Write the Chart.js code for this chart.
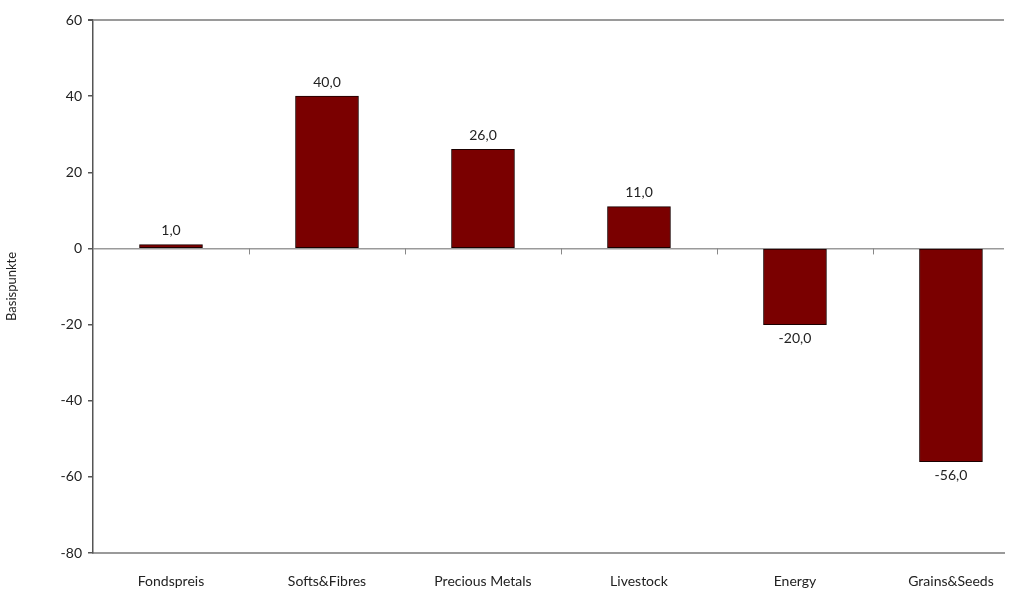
<!DOCTYPE html>
<html>
<head>
<meta charset="utf-8">
<script src="https://cdn.jsdelivr.net/npm/chart.js@4/dist/chart.umd.min.js"></script>
<style>
  html, body { margin: 0; padding: 0; background: #fff; overflow: hidden; }
  #wrap { width: 1016px; height: 595px; }
</style>
</head>
<body>
<div id="wrap"><canvas id="c" width="1016" height="595"></canvas></div>
<script>
const categories = ['Fondspreis', 'Softs&Fibres', 'Precious Metals', 'Livestock', 'Energy', 'Grains&Seeds'];
const values = [1, 40, 26, 11, -20, -56];
const yTicks = [-80, -60, -40, -20, 0, 20, 40, 60];

const FONT = 'Lato, "Open Sans", sans-serif';

// value labels above / below each bar, plus the small ticks on the zero line
const barLabels = {
  id: 'barLabels',
  afterDatasetsDraw(chart) {
    const ctx = chart.ctx;
    const xs = chart.scales.x, ys = chart.scales.y;
    ctx.save();
    // category separators on the zero line
    ctx.strokeStyle = '#888';
    ctx.lineWidth = 1;
    const y0 = ys.getPixelForValue(0);
    for (let i = 0; i < categories.length - 1; i++) {
      const px = Math.round(xs.getPixelForValue(i + 0.5)) + 0.5;
      ctx.beginPath();
      ctx.moveTo(px, y0);
      ctx.lineTo(px, y0 + 6);
      ctx.stroke();
    }
    ctx.fillStyle = '#222';
    ctx.font = '14px ' + FONT;
    ctx.textAlign = 'center';
    chart.getDatasetMeta(0).data.forEach((bar, i) => {
      const v = values[i];
      const txt = v.toFixed(1).replace('.', ',');
      if (v >= 0) {
        ctx.textBaseline = 'bottom';
        ctx.fillText(txt, bar.x, bar.y - 7);
      } else {
        ctx.textBaseline = 'top';
        ctx.fillText(txt, bar.x, bar.y + 7);
      }
    });
    ctx.restore();
  }
};

new Chart(document.getElementById('c'), {
  type: 'bar',
  data: {
    datasets: [{
      data: values.map((v, i) => ({ x: i, y: v })),
      backgroundColor: '#7a0000',
      borderColor: '#1a0000',
      borderWidth: 1,
      borderSkipped: false,
      barThickness: 63
    }]
  },
  options: {
    responsive: false,
    animation: false,
    layout: { padding: { top: 20, right: 12, left: 0, bottom: 0 } },
    plugins: {
      legend: { display: false },
      tooltip: { enabled: false }
    },
    scales: {
      x: {
        type: 'linear',
        offset: false,
        min: -0.5,
        max: 5.34,
        afterFit: s => { s.height = 42; s.paddingLeft = 0; s.paddingRight = 0; },
        grid: { display: false, drawTicks: false, offset: false },
        border: { display: true, color: '#9a9a9a', width: 2 },
        ticks: {
          stepSize: 1,
          autoSkip: false,
          maxRotation: 0,
          padding: 20,
          color: '#222',
          font: { family: FONT, size: 14 },
          callback: v => Number.isInteger(v) && categories[v] ? categories[v] : ''
        }
      },
      y: {
        min: -80,
        max: 60,
        afterFit: s => { s.width = 93; },
        afterBuildTicks: s => { s.ticks = yTicks.map(v => ({ value: v })); },
        border: { display: true, color: '#555', width: 1.5 },
        grid: {
          color: c => (c.tick && [60, 0].includes(c.tick.value)) ? '#9a9a9a' : 'rgba(0,0,0,0)',
          lineWidth: c => (c.tick && c.tick.value === 60) ? 2 : 1.5,
          tickColor: '#555',
          tickLength: 5,
          drawTicks: true
        },
        ticks: {
          padding: 6,
          color: '#222',
          font: { family: FONT, size: 14 }
        },
        title: {
          display: true,
          text: 'Basispunkte',
          color: '#222',
          font: { family: FONT, size: 13 },
          padding: { top: 4, bottom: 18 }
        }
      }
    }
  },
  plugins: [barLabels]
});
</script>
</body>
</html>
